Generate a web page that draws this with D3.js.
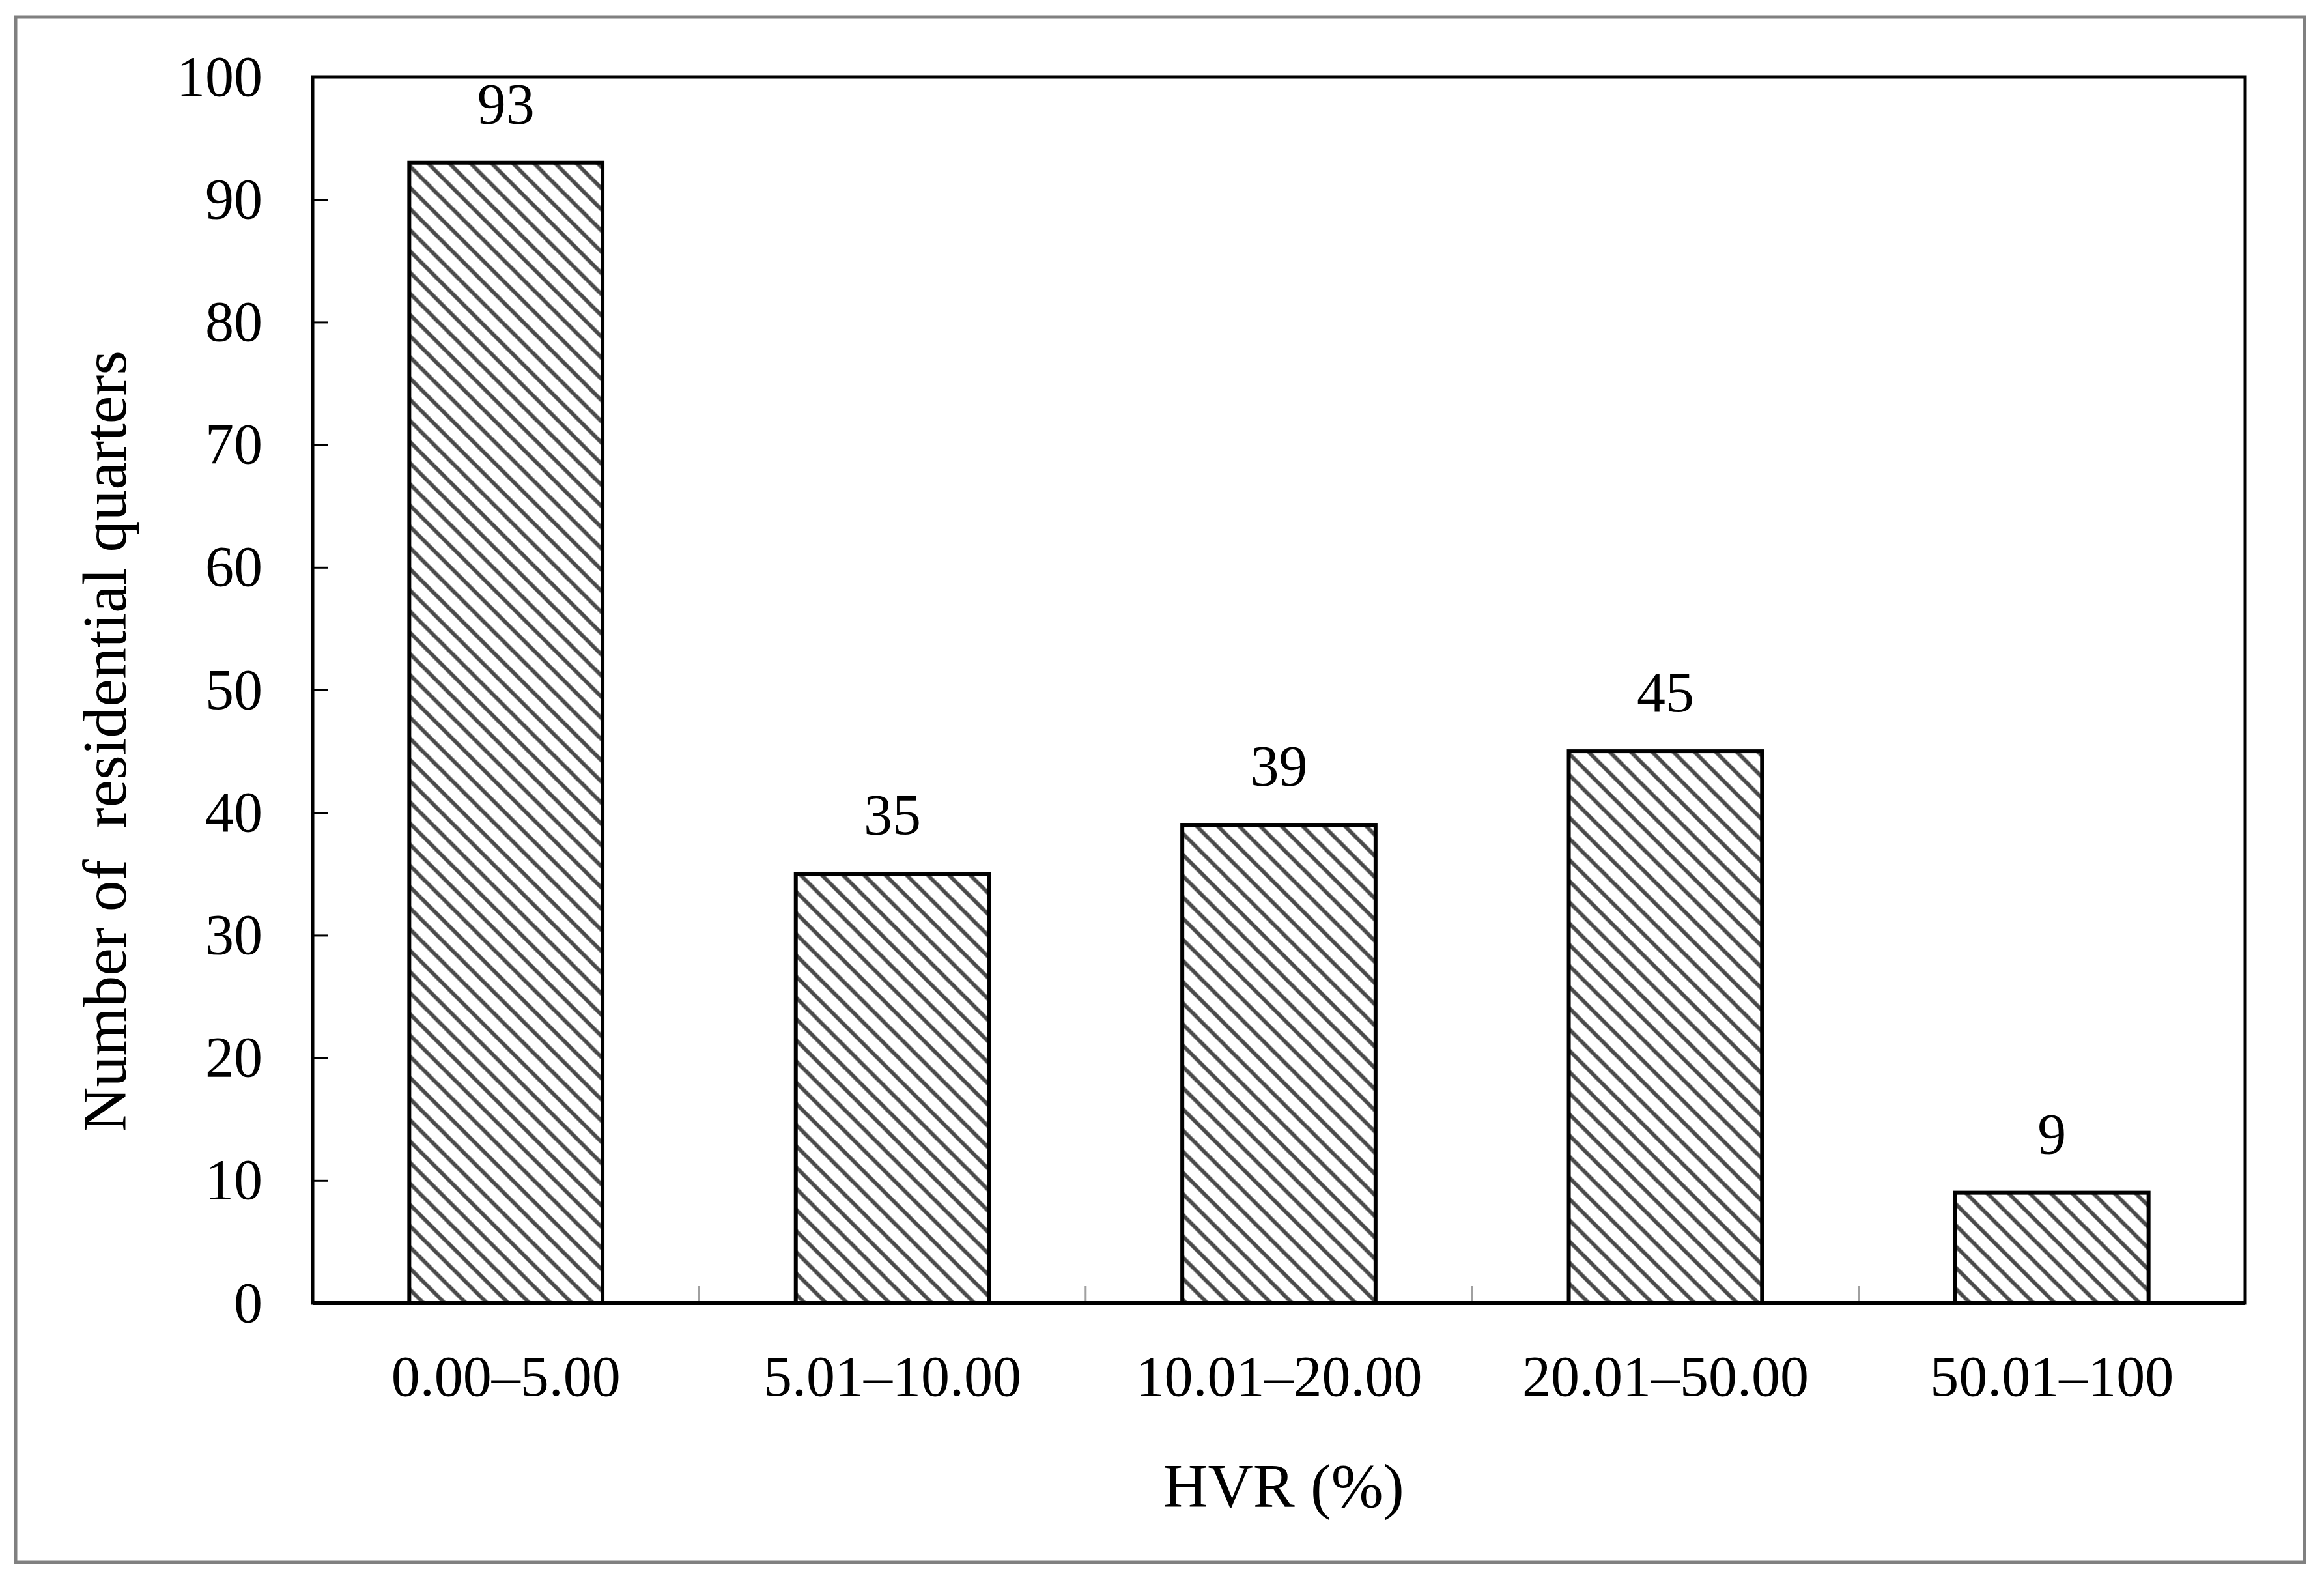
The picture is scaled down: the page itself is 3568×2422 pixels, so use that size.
<!DOCTYPE html>
<html>
<head>
<meta charset="utf-8">
<script src="https://cdn.jsdelivr.net/npm/d3@7"></script>
<style>
  html, body { margin: 0; padding: 0; background: #fff; }
  svg { display: block; }
  text { font-family: "Liberation Serif", "Times New Roman", serif; fill: #000; }
</style>
</head>
<body>
<script>
const categories = ["0.00–5.00", "5.01–10.00", "10.01–20.00", "20.01–50.00", "50.01–100"];
const counts = [93, 35, 39, 45, 9];
const yTicks = [0, 10, 20, 30, 40, 50, 60, 70, 80, 90, 100];
const xTitle = "HVR (%)";
const yTitle = "Number of  residential quarters";

const W = 3568, H = 2422;
const plot = { left: 480, right: 3447, top: 118, bottom: 2000 };

const svg = d3.select("body").append("svg")
  .attr("width", W).attr("height", H);

// hatch pattern
const defs = svg.append("defs");
const pat = defs.append("pattern")
  .attr("id", "hatch")
  .attr("patternUnits", "userSpaceOnUse")
  .attr("width", 23).attr("height", 23)
  .attr("patternTransform", "rotate(-45)");
pat.append("rect").attr("width", 23).attr("height", 23).attr("fill", "#fff");
pat.append("line")
  .attr("x1", 11.5).attr("y1", 0).attr("x2", 11.5).attr("y2", 23)
  .attr("stroke", "#4a4a4a").attr("stroke-width", 6);

// outer border
svg.append("rect")
  .attr("x", 24).attr("y", 26)
  .attr("width", 3514).attr("height", 2372)
  .attr("fill", "#fff").attr("stroke", "#808080").attr("stroke-width", 5);

const x = d3.scaleBand()
  .domain(categories)
  .range([plot.left, plot.right])
  .paddingInner(0.5).paddingOuter(0.25);

const y = d3.scaleLinear()
  .domain([0, 100])
  .range([plot.bottom, plot.top]);

// bars
svg.append("g").selectAll("rect")
  .data(categories)
  .join("rect")
  .attr("x", d => x(d))
  .attr("y", (d, i) => y(counts[i]))
  .attr("width", x.bandwidth())
  .attr("height", (d, i) => y(0) - y(counts[i]))
  .attr("fill", "url(#hatch)")
  .attr("stroke", "#000")
  .attr("stroke-width", 6);

// value labels
svg.append("g").selectAll("text")
  .data(categories)
  .join("text")
  .attr("x", d => x(d) + x.bandwidth() / 2)
  .attr("y", (d, i) => y(counts[i]) - 61)
  .attr("text-anchor", "middle")
  .attr("font-size", 88)
  .text((d, i) => counts[i]);

// separator ticks between categories (gray, inward)
const step = x.step();
const seps = categories.slice(0, -1);
svg.append("g").selectAll("line")
  .data(seps)
  .join("line")
  .attr("x1", d => x(d) + x.bandwidth() + (step - x.bandwidth()) / 2)
  .attr("x2", d => x(d) + x.bandwidth() + (step - x.bandwidth()) / 2)
  .attr("y1", plot.bottom)
  .attr("y2", plot.bottom - 26)
  .attr("stroke", "#a0a0a0")
  .attr("stroke-width", 3);

// y axis
const yAxis = d3.axisLeft(y)
  .tickValues(yTicks)
  .tickSizeInner(-23)
  .tickSizeOuter(0)
  .tickPadding(77);
const gy = svg.append("g")
  .attr("transform", `translate(${plot.left},0)`)
  .call(yAxis);
gy.select(".domain").remove();
gy.selectAll(".tick line").attr("stroke", "#000").attr("stroke-width", 3);
gy.selectAll(".tick text")
  .attr("font-size", 88)
  .attr("font-family", "Liberation Serif, Times New Roman, serif")
  .attr("fill", "#000");

// x axis
const xAxis = d3.axisBottom(x).tickSize(0).tickPadding(80);
const gx = svg.append("g")
  .attr("transform", `translate(0,${plot.bottom})`)
  .call(xAxis);
gx.select(".domain").remove();
gx.selectAll(".tick text")
  .attr("font-size", 88)
  .attr("font-family", "Liberation Serif, Times New Roman, serif")
  .attr("fill", "#000");

// plot frame
svg.append("rect")
  .attr("x", plot.left).attr("y", plot.top)
  .attr("width", plot.right - plot.left)
  .attr("height", plot.bottom - plot.top)
  .attr("fill", "none").attr("stroke", "#000").attr("stroke-width", 5);

// x-axis line slightly heavier
svg.append("line")
  .attr("x1", plot.left).attr("x2", plot.right)
  .attr("y1", plot.bottom).attr("y2", plot.bottom)
  .attr("stroke", "#000").attr("stroke-width", 6);

// axis titles
svg.append("text")
  .attr("x", (plot.left + plot.right) / 2 + 7)
  .attr("y", 2313)
  .attr("text-anchor", "middle")
  .attr("font-size", 96)
  .text(xTitle);

svg.append("text")
  .attr("transform", "translate(193,1138) rotate(-90)")
  .attr("text-anchor", "middle")
  .attr("font-size", 96)
  .style("white-space", "pre")
  .text(yTitle);
</script>
</body>
</html>
